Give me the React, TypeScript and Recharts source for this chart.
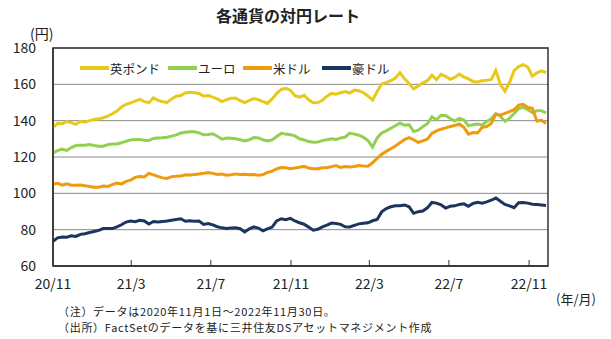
import { LineChart, Line, XAxis, YAxis, CartesianGrid, ReferenceArea } from 'recharts';

const FONT = '"Noto Sans CJK JP", "Noto Sans", sans-serif';

// x axis: days since 2020/11/1, labels every 4 months
const tickDays = [0, 120, 242, 365, 485, 607, 730];
const tickLabels = ['20/11', '21/3', '21/7', '21/11', '22/3', '22/7', '22/11'];
const yTicks = [60, 80, 100, 120, 140, 160, 180];

// weekly readings (円), 2020/11 - 2022/11
const gbp = [
    136.3, 138.5, 138.3, 139.5, 138.9, 138.0, 139.6, 139.2, 140.0, 140.7, 141.0, 141.6, 142.5, 143.8,
    145.3, 147.5, 149.0, 149.8, 150.8, 151.7, 150.5, 149.9, 152.5, 151.2, 150.4, 150.0, 152.0, 153.5,
    153.8, 155.2, 155.6, 155.4, 155.0, 153.5, 153.8, 153.0, 152.0, 150.5, 151.5, 152.3, 152.5, 151.0,
    150.0, 151.2, 152.2, 151.5, 150.5, 149.5, 152.0, 155.0, 157.2, 157.8, 156.8, 153.8, 153.0, 154.0,
    151.5, 149.9, 150.0, 151.2, 153.5, 155.0, 154.6, 155.4, 156.0, 155.2, 156.8, 156.5, 155.4, 153.6,
    151.3, 156.0, 160.2, 160.9, 162.0, 163.5, 166.4, 163.0, 160.5, 157.5, 159.1, 160.8, 162.0,
    165.0, 162.6, 165.5, 164.4, 162.8, 163.8, 165.7, 164.0, 163.0, 161.6, 161.3, 162.0, 162.2, 162.6,
    167.6, 160.0, 156.2, 161.0, 167.5, 169.8, 170.8, 169.5, 164.5, 166.3, 167.4, 166.5,
];
const eur = [
    122.2, 123.5, 124.3, 123.6, 125.2, 126.3, 126.4, 126.5, 126.9, 126.3, 125.9, 125.9, 126.8, 127.2,
    127.2, 127.8, 128.7, 129.4, 129.6, 129.6, 129.2, 129.1, 130.2, 130.4, 130.6, 130.9, 131.5, 132.2,
    133.2, 133.6, 133.9, 133.9, 133.3, 132.2, 132.4, 132.8, 131.4, 129.8, 130.4, 130.3, 130.0, 129.5,
    128.8, 129.5, 130.7, 130.5, 129.5, 128.8, 129.4, 131.3, 133.0, 132.6, 132.3, 131.6, 130.0, 129.4,
    128.5, 128.1, 128.3, 129.0, 129.5, 130.0, 129.6, 130.5, 131.0, 133.2, 132.6, 132.0, 130.8, 129.0,
    125.5, 130.5, 133.2, 134.4, 135.8, 137.2, 138.6, 137.5, 137.8, 134.0, 134.8, 136.6, 138.3,
    142.1, 140.5, 143.0, 142.8, 141.2, 139.8, 141.2, 140.4, 137.2, 137.8, 138.2, 137.5, 139.6, 141.0,
    143.9, 142.4, 139.6, 141.3, 144.0, 146.6, 147.3, 146.0, 144.4, 145.5, 145.5, 144.2,
];
const usd = [
    105.1, 105.5, 104.5, 105.2, 104.5, 104.5, 104.6, 104.2, 103.8, 103.4, 103.4, 104.0, 103.8, 104.8,
    105.6, 105.2, 106.6, 107.3, 108.8, 109.3, 109.0, 111.0, 110.2, 109.3, 108.5, 108.2, 109.2, 109.4,
    109.5, 110.2, 110.1, 110.4, 110.7, 111.0, 111.5, 111.0, 110.4, 110.6, 110.0, 110.2, 110.7, 110.4,
    110.5, 110.2, 110.3, 110.0, 110.3, 111.5, 112.2, 113.4, 114.2, 114.1, 113.6, 113.9, 114.4, 114.9,
    113.9, 113.6, 113.6, 114.1, 114.1, 114.7, 115.3, 114.2, 114.8, 114.5, 114.8, 115.3, 115.0, 114.9,
    116.8, 119.2, 121.5, 123.1, 124.5, 126.0, 127.8, 129.6, 130.7, 129.5, 128.0, 128.9, 129.8,
    133.0, 134.4, 135.3, 136.0, 136.8, 137.3, 138.2, 136.3, 132.6, 133.5, 133.2, 136.3, 136.8, 138.5,
    143.6, 143.0, 144.0, 145.0, 146.0, 148.5, 149.0, 147.2, 146.8, 139.8, 140.2, 138.4,
];
const aud = [
    73.6, 75.5, 76.0, 75.8, 76.6, 76.3, 77.4, 77.8, 78.4, 79.0, 79.6, 80.6, 80.6, 80.6,
    81.5, 82.7, 84.2, 84.8, 84.4, 85.2, 84.8, 83.1, 84.5, 84.2, 84.5, 84.8, 85.2, 85.6,
    86.0, 84.6, 84.9, 84.6, 84.7, 82.9, 83.4, 82.6, 81.6, 81.0, 80.6, 80.9, 81.0, 80.5,
    78.7, 80.5, 81.5, 80.9, 79.4, 80.4, 81.4, 84.8, 86.0, 85.5, 86.2, 84.8, 83.8, 83.0,
    81.4, 79.7, 80.2, 81.5, 82.5, 83.6, 83.4, 82.9, 81.6, 81.5, 82.4, 83.2, 83.5, 83.8,
    84.9, 85.6, 89.8, 91.6, 92.6, 93.2, 93.2, 93.6, 92.6, 89.0, 89.9, 90.3, 92.0,
    95.0, 94.6, 93.7, 91.9, 92.9, 93.1, 93.9, 94.2, 92.9, 94.4, 95.1, 94.6, 95.3, 96.2,
    97.4, 95.6, 93.9, 93.1, 92.1, 94.8, 95.0, 94.6, 94.0, 93.9, 93.6, 93.3,
];

const series = [
    { key: 'gbp', name: '英ポンド', color: '#E9C81C', legendX: 80 },
    { key: 'eur', name: 'ユーロ', color: '#92D050', legendX: 168 },
    { key: 'usd', name: '米ドル', color: '#F09A0E', legendX: 243 },
    { key: 'aud', name: '豪ドル', color: '#1B355E', legendX: 322 },
];

const data = gbp.map((v, i) => ({ day: i * 7, gbp: v, eur: eur[i], usd: usd[i], aud: aud[i] }));

// legend sits inside the plot, top-left
function ChartLegend() {
    return (
        <div style={{ position: 'absolute', left: 0, top: 58, width: 611, height: 20, fontSize: 12.5, color: '#222' }}>
            {series.map(s => (
                <div key={s.key} style={{ position: 'absolute', left: s.legendX, top: 0, display: 'flex', alignItems: 'center', height: 20 }}>
                    <svg width={29} height={6}>
                        <line x1={1} y1={3} x2={28} y2={3} stroke={s.color} strokeWidth={4} strokeLinecap="round" />
                    </svg>
                    <span style={{ marginLeft: 1 }}>{s.name}</span>
                </div>
            ))}
        </div>
    );
}

export default function App() {
    return (
        <div style={{ position: 'absolute', left: 0, top: 0, width: 611, height: 339, background: '#fff', fontFamily: FONT, color: '#222' }}>
            <div style={{ position: 'absolute', left: 0, width: 576, top: 3, textAlign: 'center', fontSize: 16, fontWeight: 700 }}>
                各通貨の対円レート
            </div>
            <div style={{ position: 'absolute', left: 30, top: 23, fontSize: 14 }}>(円)</div>

            <LineChart width={611} height={339} data={data} margin={{ top: 48, right: 63, bottom: 43, left: 0 }}>
                <CartesianGrid vertical={false} stroke="#8a8a8a" strokeWidth={1} />
                <ReferenceArea x1={0} x2={759} y1={60} y2={180} fill="none" stroke="#333" strokeWidth={1.5} />
                <XAxis
                    dataKey="day"
                    type="number"
                    domain={[0, 759]}
                    ticks={tickDays}
                    tickFormatter={(d: number) => tickLabels[tickDays.indexOf(d)]}
                    height={30}
                    tickSize={-6}
                    tickMargin={19}
                    axisLine={{ stroke: '#333', strokeWidth: 1.5 }}
                    tickLine={{ stroke: '#333' }}
                    tick={{ fontSize: 14, fill: '#222', fontFamily: FONT }}
                    interval={0}
                />
                <YAxis
                    domain={[60, 180]}
                    ticks={yTicks}
                    width={53}
                    tickLine={false}
                    tickMargin={11}
                    axisLine={{ stroke: '#333', strokeWidth: 1.5 }}
                    tick={{ fontSize: 14, fill: '#222', fontFamily: FONT }}
                    interval={0}
                />
                {series.map(s => (
                    <Line
                        key={s.key}
                        dataKey={s.key}
                        name={s.name}
                        type="linear"
                        stroke={s.color}
                        strokeWidth={3}
                        dot={false}
                        isAnimationActive={false}
                    />
                ))}
            </LineChart>

            <ChartLegend />

            <div style={{ position: 'absolute', left: 556, top: 289, fontSize: 13 }}>(年/月)</div>
            <div style={{ position: 'absolute', left: 58, top: 303, fontSize: 11, letterSpacing: 0.7, lineHeight: '16px', whiteSpace: 'nowrap' }}>
                <div>（注）データは2020年11月1日～2022年11月30日。</div>
                <div>（出所）FactSetのデータを基に三井住友DSアセットマネジメント作成</div>
            </div>
        </div>
    );
}
